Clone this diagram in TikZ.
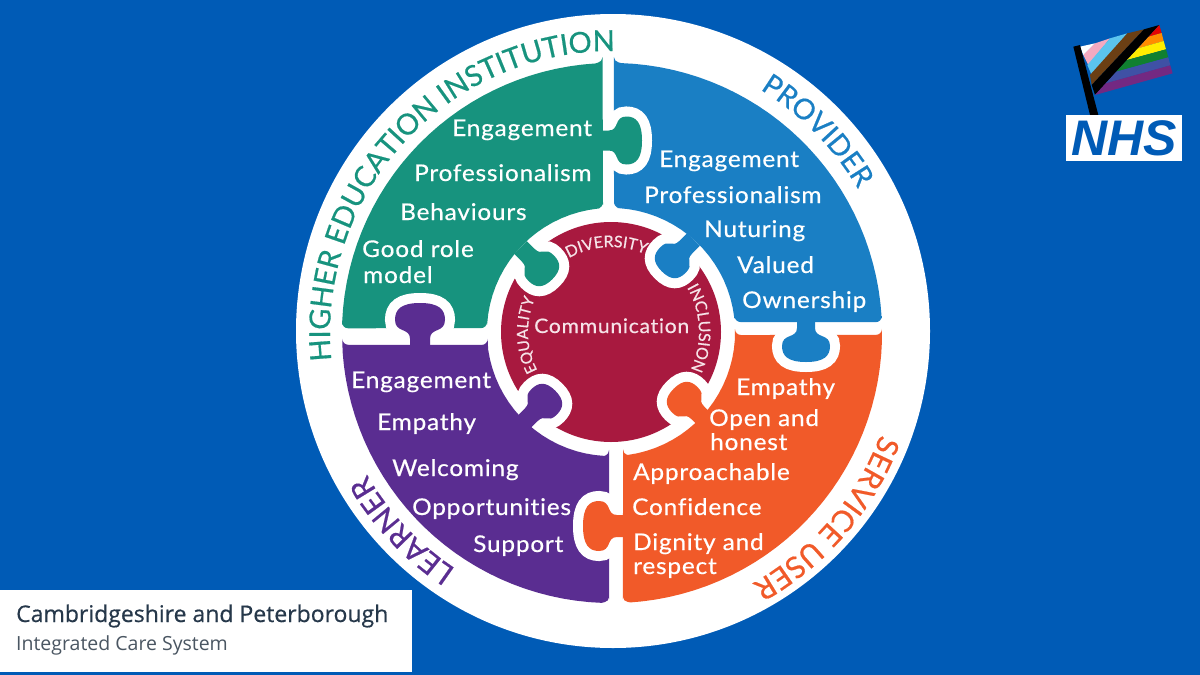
\documentclass[tikz,border=0pt]{standalone}
\usepackage{fontspec}
\usetikzlibrary{decorations.text}
\setmainfont{Lato}
\newfontfamily\lblfont[LetterSpace=3.5,FakeStretch=1.06,FakeBold=0.5,Ligatures=NoCommon]{Lato}
\newfontfamily\ringfont[FakeBold=0.6]{Lato}
\newfontfamily\openf[FakeBold=0.5]{Open Sans}
\newfontfamily\openr{Open Sans}
\newfontfamily\nhsf{Liberation Sans}
\definecolor{bgblue}{HTML}{005BB6}
\definecolor{teal1}{HTML}{17937E}
\definecolor{blue1}{HTML}{1A7FC4}
\definecolor{red1}{HTML}{A8193F}
\definecolor{orange1}{HTML}{F15A29}
\definecolor{purple1}{HTML}{5A2D91}
\definecolor{darkt}{HTML}{26384A}
\definecolor{greyt}{HTML}{4A5662}
\definecolor{pinkw}{HTML}{F6E3E8}
\definecolor{fpink}{HTML}{F5A9C0}
\definecolor{fsky}{HTML}{5BC4EE}
\definecolor{fbrown}{HTML}{6B3F14}
\definecolor{fred}{HTML}{E40303}
\definecolor{forange}{HTML}{FF8C00}
\definecolor{fyellow}{HTML}{FFED00}
\definecolor{fgreen}{HTML}{108030}
\definecolor{fblue}{HTML}{3F51A5}
\definecolor{fviolet}{HTML}{732982}
\newcommand{\ox}{612+270*cos(\x)}
\newcommand{\oy}{333+270*sin(\x)}
\newcommand{\ix}{611+124*cos(\x)}
\newcommand{\iy}{332+124*sin(\x)}
% tab: n = half neck, h = half head, L = length
\newcommand{\tabpath}[3]{(-5,-#1) -- ({0.15*#3},-#1) .. controls ({0.42*#3},-#1) and ({0.28*#3},-#2) .. ({0.6*#3},-#2) .. controls ({0.85*#3},-#2) and (#3,{-0.75*#2}) .. (#3,0) .. controls (#3,{0.75*#2}) and ({0.85*#3},#2) .. ({0.6*#3},#2) .. controls ({0.28*#3},#2) and ({0.42*#3},#1) .. ({0.15*#3},#1) -- (-5,#1) -- cycle}
% #1 colour, #2 x, #3 y, #4 rotate, #5 n, #6 h, #7 L
\newcommand{\tabfill}[7]{\fill[#1,shift={(#2,#3)},rotate=#4] \tabpath{#5}{#6}{#7};}
\newcommand{\tabhalo}[6]{\draw[white,line width=20pt,shift={(#1,#2)},rotate=#3] \tabpath{#4}{#5}{#6};}
\newcommand{\curved}[6]{\path[decorate,decoration={text along path,text align=center,text={|\ringfont\fontsize{#5}{#5}\selectfont\color{#6}|#1}}] plot[domain=#3:#4,samples=60] ({#2*cos(\x)+612},{#2*sin(\x)+333});}
\newcommand{\curvedin}[6]{\path[decorate,decoration={text along path,text align=center,text={|\ringfont\fontsize{#5}{#5}\selectfont\color{#6}|#1}}] plot[domain=#3:#4,samples=40] ({#2*cos(\x)+611},{#2*sin(\x)+332});}
\newcommand{\body}[5]{\fill[#1,rounded corners=6pt] plot[domain=#2:#3,samples=32,smooth] ({\ox},{\oy}) -- plot[domain=#4:#5,samples=20,smooth] ({\ix},{\iy}) -- cycle;}
\tikzset{
  lbl/.style={anchor=base west,inner sep=0pt,text=white,font=\lblfont\fontsize{23}{23}\selectfont},
  mid/.style={anchor=base west,inner sep=0pt,text=pinkw,font=\lblfont\fontsize{20}{20}\selectfont},
}
\begin{document}
\begin{tikzpicture}[x=1pt,y=-1pt]
\useasboundingbox (0,0) rectangle (1200,675);
\fill[bgblue] (0,0) rectangle (1200,675);
\fill[white] (613,331) circle[radius=317pt];
\fill[red1] (611,332) circle[radius=110pt];
% bodies
\body{teal1}{181}{268}{266.3}{181.8}
\body{blue1}{270.4}{357.7}{355.4}{271.4}
\body{orange1}{0.4}{87.7}{84.4}{1.4}
\body{purple1}{90.6}{177.5}{174}{90.9}
% sockets
\begin{scope}\clip (608,90) rectangle (680,190); \tabhalo{603}{140.5}{0}{10}{24}{39} \end{scope}
\begin{scope}\clip (770,328) rectangle (850,390); \tabhalo{806}{322}{270}{9}{24}{40} \end{scope}
\begin{scope}\clip (616,490) rectangle (560,565); \tabhalo{623}{526}{180}{11}{25}{40} \end{scope}
\begin{scope}\clip (375,337) rectangle (465,285); \tabhalo{420}{345}{90}{10}{25}{42} \end{scope}
\begin{scope}\clip (611,332) circle[radius=118pt];
\tabhalo{524}{251}{315}{9}{18}{40}
\tabhalo{690}{243}{225}{9}{18}{40}
\tabhalo{702}{417}{135}{9}{18}{40}
\tabhalo{527}{419}{45}{9}{18}{40}
\end{scope}
% tabs
\tabfill{teal1}{603}{140.5}{0}{10}{24}{39}
\tabfill{blue1}{806}{322}{270}{9}{24}{40}
\tabfill{orange1}{623}{526}{180}{11}{25}{40}
\tabfill{purple1}{420}{345}{90}{10}{25}{42}
\tabfill{teal1}{524}{251}{315}{9}{18}{40}
\tabfill{blue1}{690}{243}{225}{9}{18}{40}
\tabfill{orange1}{702}{417}{135}{9}{18}{40}
\tabfill{purple1}{527}{419}{45}{9}{18}{40}
% teal labels
\node[lbl] (t1) at (452,136) {Engagement};
\node[lbl] (t2) at (414,181) {Professionalism};
\node[lbl] (t3) at (400,220) {Behaviours};
\node[lbl] (t4) at (362,257) {Good role};
\node[lbl] (t5) at (363,283) {model};
% blue labels
\node[lbl] (b1) at (659,167) {Engagement};
\node[lbl] (b2) at (644,203) {Professionalism};
\node[lbl] (b3) at (704,237) {Nuturing};
\node[lbl] (b4) at (737,273) {Valued};
\node[lbl] (b5) at (742,308) {Ownership};
% purple labels
\node[lbl] (p1) at (351,388) {Engagement};
\node[lbl] (p2) at (377,430) {Empathy};
\node[lbl] (p3) at (392,476) {Welcoming};
\node[lbl] (p4) at (412,515) {Opportunities};
\node[lbl] (p5) at (473,552) {Support};
% orange labels
\node[lbl] (o1) at (736,395) {Empathy};
\node[lbl] (o2) at (709,426) {Open and};
\node[lbl] (o3) at (710,450) {honest};
\node[lbl] (o4) at (633,480) {Approachable};
\node[lbl] (o5) at (632,515) {Confidence};
\node[lbl] (o6) at (633,550) {Dignity and};
\node[lbl] (o7) at (633,574) {respect};
\node[mid] (c1) at (534,333) {Communication};
% ring labels
\curved{HIGHER EDUCATION INSTITUTION}{282}{165}{280}{29}{teal1}
\curved{PROVIDER}{285}{290}{341}{28.5}{blue1}
\curved{SERVICE USER}{287}{8}{73.5}{30}{orange1}
\curved{LEARNER}{283}{110}{163.5}{30}{purple1}
\curvedin{DIVERSITY}{85}{222}{312}{16}{pinkw}
\curvedin{INCLUSION}{88}{312}{403}{16}{pinkw}
\curvedin{EQUALITY}{83}{132}{224}{15.5}{pinkw}
% flag
\begin{scope}[shift={(1050,10)},x=0.3333pt,y=-0.3333pt]
\fill[white] (90,110) -- (135,100) -- (100,135) -- cycle;
\fill[fpink] (135,100) -- (180,85) -- (115,165) -- (100,135) -- cycle;
\fill[fsky] (180,85) -- (232,70) -- (125,195) -- (112,165) -- cycle;
\fill[fbrown] (232,70) -- (282,58) -- (125,225) -- (120,195) -- cycle;
\fill[black] (282,58) -- (328,45) -- (135,255) -- (125,225) -- cycle;
\fill[fred] (328,45) -- (335,69) -- (296,80) -- cycle;
\fill[forange] (335,69) -- (341,93) -- (264,115) -- (296,80) -- cycle;
\fill[fyellow] (341,93) -- (348,118) -- (231,150) -- (264,115) -- cycle;
\fill[fgreen] (348,118) -- (355,142) -- (199,185) -- (231,150) -- cycle;
\fill[fblue] (355,142) -- (361,166) -- (167,220) -- (199,185) -- cycle;
\fill[fviolet] (361,166) -- (368,190) -- (135,255) -- (167,220) -- cycle;
\fill[black] (70,110) -- (90,105) -- (145,315) -- (120,315) -- cycle;
\end{scope}
\node[draw=none,fill=white,minimum width=116pt,minimum height=46pt,inner sep=0pt] (nhsbox) at (1124,138) {};
\node[inner sep=0pt,text=bgblue,font=\nhsf\bfseries\itshape\fontsize{50}{50}\selectfont] (nhs) at (nhsbox.center) {NHS};
% ICS box
\fill[white] (0,590) rectangle (412,672);
\node[anchor=base west,inner sep=0pt,text=darkt,font=\openf\fontsize{23}{23}\selectfont] (ics1) at (16,622) {Cambridgeshire and Peterborough};
\node[anchor=base west,inner sep=0pt,text=greyt,font=\openr\fontsize{19.5}{19.5}\selectfont] (ics2) at (16,650) {Integrated Care System};
\end{tikzpicture}
\end{document}
